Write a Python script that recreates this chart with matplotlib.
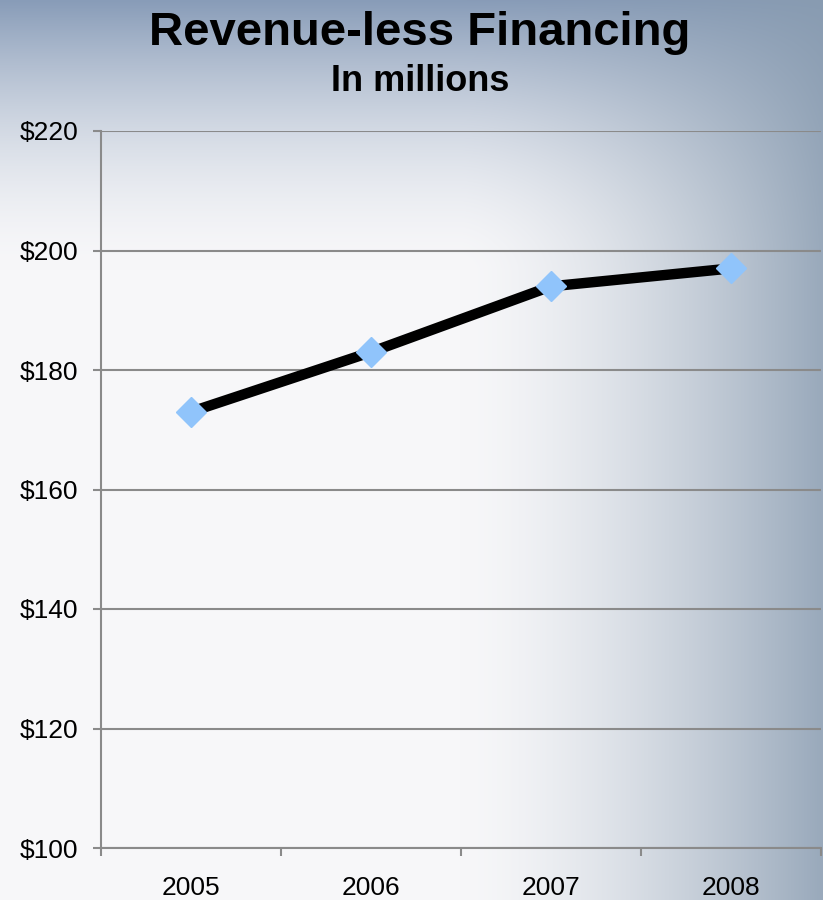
import numpy as np
import matplotlib
matplotlib.use("Agg")
import matplotlib.pyplot as plt

years = ["2005", "2006", "2007", "2008"]
values = [173, 183, 194, 197]
y_ticks = [100, 120, 140, 160, 180, 200, 220]
y_labels = ["$100", "$120", "$140", "$160", "$180", "$200", "$220"]

plt.rcParams['font.family'] = ['Liberation Sans', 'DejaVu Sans']

W, H = 823, 900
fig = plt.figure(figsize=(W / 100, H / 100), dpi=100)

# background gradient
yy, xx = np.mgrid[0:H, 0:W].astype(float)
base = np.array([247, 247, 249]) / 255.0
top_col = np.array([136, 156, 184]) / 255.0
right_col = np.array([136, 155, 176]) / 255.0
tv = np.clip(1 - yy / 270.0, 0, 1) ** 1.7
th = np.clip((xx - 460) / 363.0, 0, 1) ** 1.5
img = base[None, None, :] * np.ones((H, W, 3))
img = img * (1 - tv[..., None]) + top_col[None, None, :] * tv[..., None]
img = img * (1 - th[..., None] * 0.85) + right_col[None, None, :] * (th[..., None] * 0.85)
bg = fig.add_axes([0, 0, 1, 1], zorder=-10)
bg.imshow(img, aspect='auto', extent=[0, 1, 0, 1], interpolation='bilinear')
bg.axis('off')

ax = fig.add_axes([101 / W, (H - 848) / H, 720 / W, (848 - 131) / H])
ax.patch.set_alpha(0)

x = np.arange(len(years))
ax.plot(x, values, color='black', linewidth=7.5, solid_capstyle='butt',
        marker='D', markersize=15, markerfacecolor='#90c4fb',
        markeredgecolor='#90c4fb', zorder=3)

ax.set_xlim(-0.5, len(years) - 0.5)
ax.set_ylim(100, 220)
ax.set_yticks(y_ticks)
ax.set_yticklabels(y_labels, fontsize=19)
ax.set_xticks(x)
ax.set_xticklabels(years, fontsize=19)
ax.set_xticks(np.arange(-0.5, len(years)), minor=True)
ax.tick_params(axis='x', which='major', length=0, pad=20)
ax.tick_params(axis='x', which='minor', length=5.5, width=1.5, color='#8a8a8a')
ax.tick_params(axis='y', which='major', length=5.5, width=1.5, color='#8a8a8a', pad=11)

ax.grid(axis='y', color='#8a8a8a', linewidth=1.5, zorder=1)
for s in ['top', 'right']:
    ax.spines[s].set_visible(False)
for s in ['left', 'bottom']:
    ax.spines[s].set_color('#8a8a8a')
    ax.spines[s].set_linewidth(1.5)

fig.text(420 / W, 1 - 45 / H, "Revenue-less Financing", ha='center', va='baseline',
         fontsize=34, fontweight='bold')
fig.text(420 / W, 1 - 91 / H, "In millions", ha='center', va='baseline',
         fontsize=26, fontweight='bold')

fig.savefig("out.png", dpi=100)
